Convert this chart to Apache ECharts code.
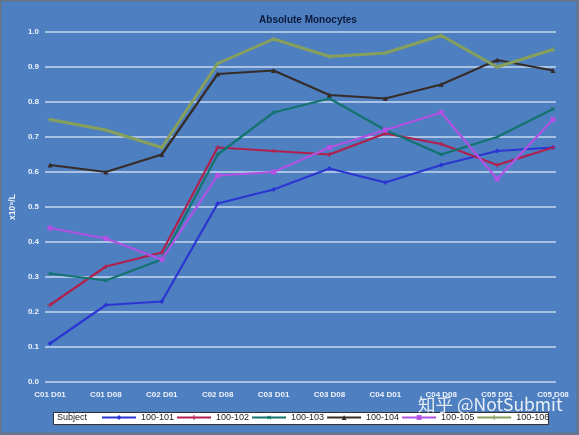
<!DOCTYPE html>
<html>
<head>
<meta charset="utf-8">
<script src="https://cdn.jsdelivr.net/npm/echarts@6/dist/echarts.min.js"></script>
<style>
  html, body { margin: 0; padding: 0; background: #4d7fc1; }
  #chart { width: 579px; height: 435px; }
</style>
</head>
<body>
<div id="chart"></div>
<script>
// visit labels
const visits = ['C01 D01', 'C01 D08', 'C02 D01', 'C02 D08', 'C03 D01', 'C03 D08', 'C04 D01', 'C04 D08', 'C05 D01', 'C05 D08']
// subject values, x10^9/L
const s101 = [0.11, 0.22, 0.23, 0.51, 0.55, 0.61, 0.57, 0.62, 0.66, 0.67]
const s102 = [0.22, 0.33, 0.37, 0.67, 0.66, 0.65, 0.71, 0.68, 0.62, 0.67]
const s103 = [0.31, 0.29, 0.35, 0.65, 0.77, 0.81, 0.72, 0.65, 0.70, 0.78]
const s104 = [0.62, 0.60, 0.65, 0.88, 0.89, 0.82, 0.81, 0.85, 0.92, 0.89]
const s105 = [0.44, 0.41, 0.35, 0.59, 0.60, 0.67, 0.72, 0.77, 0.58, 0.75]
const s106 = [0.75, 0.72, 0.67, 0.91, 0.98, 0.93, 0.94, 0.99, 0.90, 0.95]

const plus = 'path://M4,0h2v4h4v2h-4v4h-2v-4h-4v-2h4z'
const font = 'Liberation Sans'
const labelColor = '#eef3fb'

const line = (name, data, color, symbol, width, rotate) => ({
  name,
  type: 'line',
  data,
  xAxisIndex: 0,
  yAxisIndex: 0,
  symbol,
  symbolSize: 5,
  symbolRotate: rotate || 0,
  showSymbol: true,
  lineStyle: { color, width },
  itemStyle: { color },
  animation: false
})

const chart = echarts.init(document.getElementById('chart'))
chart.setOption({
  backgroundColor: '#4d7fc1',
  title: {
    text: 'Absolute Monocytes',
    left: 303,
    textAlign: 'center',
    top: 10,
    textStyle: { fontFamily: font, fontSize: 10, fontWeight: 'bold', color: '#0b1a3c' }
  },
  grid: [
    { left: 50, right: 26, top: 32, bottom: 53 },
    { left: 42, right: 23, top: 32, bottom: 53 }
  ],
  xAxis: [
    {
      type: 'category',
      gridIndex: 0,
      data: visits,
      boundaryGap: false,
      axisLine: { show: false },
      axisTick: { show: false },
      axisLabel: { color: labelColor, fontFamily: font, fontSize: 8, fontWeight: 'bold', margin: 9 }
    },
    { type: 'value', gridIndex: 1, show: false }
  ],
  yAxis: [
    { type: 'value', gridIndex: 0, min: 0, max: 1, interval: 0.1, show: false },
    {
      type: 'value',
      gridIndex: 1,
      min: 0,
      max: 1,
      interval: 0.1,
      name: 'x10⁹/L',
      nameLocation: 'middle',
      nameGap: 22,
      nameTextStyle: { color: labelColor, fontFamily: font, fontSize: 8.5, fontWeight: 'bold' },
      axisLine: { show: false },
      axisTick: { show: false },
      axisLabel: { color: labelColor, fontFamily: font, fontSize: 8, fontWeight: 'bold', margin: 6, formatter: (v) => v.toFixed(1) },
      splitLine: { lineStyle: { color: '#c9d8ef', width: 1.5 } }
    }
  ],
  legend: {
    left: 101,
    top: 413,
    itemWidth: 34,
    itemHeight: 6,
    itemGap: 2,
    padding: 0,
    textStyle: { fontFamily: font, fontSize: 9, color: '#222' },
    data: ['100-101', '100-102', '100-103', '100-104', '100-105', '100-106']
  },
  graphic: [
    { type: 'rect', z: -1, shape: { x: 0.5, y: 0.5, width: 577, height: 433 }, style: { fill: 'none', stroke: '#6b7385', lineWidth: 2 } },
    { type: 'rect', z: 0, shape: { x: 53.5, y: 412.5, width: 495, height: 12 }, style: { fill: '#fff', stroke: '#333', lineWidth: 1 } },
    { type: 'text', z: 10, left: 57, top: 413, style: { text: 'Subject', fontFamily: font, fontSize: 9, fill: '#222' } },
    { type: 'text', z: 100, left: 418, top: 396, style: { text: '知乎 @NotSubmit', fontFamily: 'Noto Sans CJK SC', fontSize: 17.5, fill: 'rgba(255,255,255,0.88)' } }
  ],
  series: [
    line('100-101', s101, '#2b36d2', 'diamond', 2.2),
    line('100-102', s102, '#b1204c', plus, 2.2),
    line('100-103', s103, '#13736f', plus, 2.2, 45),
    line('100-104', s104, '#352c28', 'triangle', 2.2),
    line('100-105', s105, '#b152e4', 'rect', 2.2),
    line('100-106', s106, '#86a05c', plus, 3)
  ]
})
</script>
</body>
</html>
